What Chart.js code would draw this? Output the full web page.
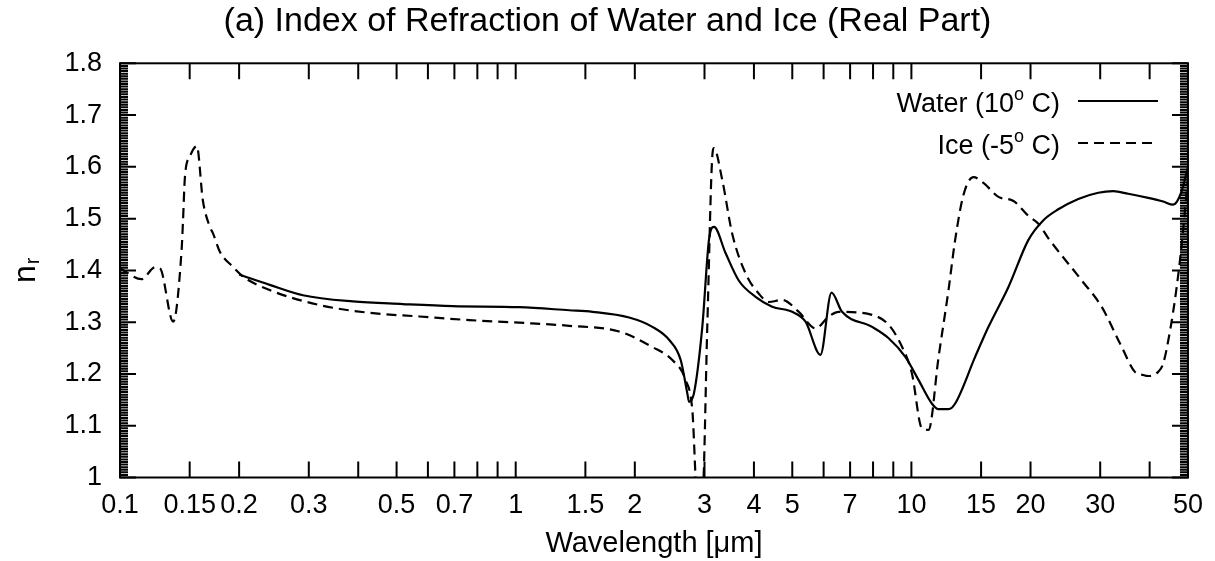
<!DOCTYPE html>
<html>
<head>
<meta charset="utf-8">
<script src="https://cdn.jsdelivr.net/npm/chart.js@4.4.0/dist/chart.umd.min.js"></script>
<style>
  html, body { margin: 0; padding: 0; background: #fff; }
</style>
</head>
<body>
<canvas id="nrChart" width="1215" height="561"></canvas>
<script>
// wavelength in micrometres, real refractive index
const waterWavelength = [0.2, 0.239, 0.29, 0.3877, 0.5184, 0.6931, 1.021, 1.365, 1.563, 1.935, 2.215, 2.441, 2.612, 2.714, 2.742, 2.822, 2.962, 3.079, 3.17, 3.393, 3.665, 4.038, 4.447, 4.996, 5.401, 5.891, 6.281, 6.68, 7.952, 8.76, 9.652, 10.43, 11.26, 11.71, 12.41, 12.9, 14.49, 15.66, 17.59, 19.76, 21.56, 23.51, 26.41, 29.67, 32.36, 35.31, 39.67, 43.28, 45.86, 48.05, 50];
const waterIndex = [1.392, 1.372, 1.352, 1.340, 1.335, 1.331, 1.329, 1.323, 1.320, 1.309, 1.291, 1.266, 1.227, 1.163, 1.146, 1.163, 1.291, 1.459, 1.484, 1.433, 1.380, 1.349, 1.330, 1.320, 1.301, 1.237, 1.357, 1.320, 1.291, 1.269, 1.233, 1.188, 1.143, 1.132, 1.132, 1.143, 1.233, 1.291, 1.368, 1.459, 1.497, 1.518, 1.538, 1.550, 1.553, 1.548, 1.540, 1.533, 1.527, 1.550, 1.600];

const iceWavelength = [0.1, 0.1134, 0.1226, 0.1262, 0.1363, 0.1431, 0.1442, 0.1459, 0.1502, 0.1564, 0.1619, 0.1687, 0.1717, 0.1788, 0.1928, 0.2047, 0.239, 0.3196, 0.4273, 0.5712, 0.7638, 1.021, 1.365, 1.825, 2.215, 2.488, 2.689, 2.795, 2.877, 2.962, 3.049, 3.139, 3.17, 3.326, 3.525, 3.811, 4.117, 4.363, 4.714, 5.193, 5.723, 6.183, 6.554, 7.952, 8.76, 9.462, 10.03, 10.63, 11.05, 11.71, 12.41, 12.9, 13.54, 14.35, 15.21, 16.6, 18.11, 19.76, 20.94, 22.19, 26.92, 30.24, 33.96, 36.71, 38.53, 39.67, 42.04, 43.28, 45.08, 46.67, 48.05, 50];
const iceIndex = [1.404, 1.383, 1.406, 1.404, 1.301, 1.439, 1.491, 1.580, 1.620, 1.640, 1.536, 1.484, 1.472, 1.436, 1.407, 1.388, 1.362, 1.333, 1.318, 1.311, 1.304, 1.299, 1.293, 1.282, 1.252, 1.227, 1.188, 1.130, 0.96, 0.96, 1.291, 1.620, 1.636, 1.575, 1.471, 1.394, 1.355, 1.339, 1.343, 1.320, 1.288, 1.311, 1.320, 1.314, 1.295, 1.253, 1.201, 1.095, 1.092, 1.232, 1.362, 1.459, 1.546, 1.580, 1.569, 1.542, 1.534, 1.505, 1.490, 1.462, 1.381, 1.330, 1.253, 1.204, 1.198, 1.196, 1.204, 1.220, 1.285, 1.360, 1.440, 1.580];

// tick positions
const xTickValues = [0.1, 0.15, 0.2, 0.3, 0.4, 0.5, 0.6, 0.7, 0.8, 0.9, 1, 1.5, 2, 3, 4, 5, 6, 7, 8, 9, 10, 15, 20, 30, 40, 50];
const xTickLabels = ['0.1', '0.15', '0.2', '0.3', '0.5', '0.7', '1', '1.5', '2', '3', '4', '5', '7', '10', '15', '20', '30', '50'];
const yTickValues = [1, 1.1, 1.2, 1.3, 1.4, 1.5, 1.6, 1.7, 1.8];

const FONT = "'Liberation Sans', Arial, Helvetica, sans-serif";
const TITLE = '(a) Index of Refraction of Water and Ice (Real Part)';

const toPoints = (xs, ys) => xs.map((v, i) => ({ x: v, y: ys[i] }));

// gnuplot-like frame: inward ticks mirrored on all four sides, text legend, titles
const frameTicks = {
  id: 'frameTicks',
  afterDatasetsDraw(chart) {
    const { ctx, chartArea: a, scales: { x, y } } = chart;
    ctx.save();
    ctx.strokeStyle = '#000';
    ctx.lineWidth = 2;
    ctx.lineCap = 'butt';
    ctx.strokeRect(a.left, a.top, a.right - a.left, a.bottom - a.top);

    ctx.beginPath();
    xTickValues.forEach(v => {
      const px = x.getPixelForValue(v);
      ctx.moveTo(px, a.bottom); ctx.lineTo(px, a.bottom - 16);
      ctx.moveTo(px, a.top); ctx.lineTo(px, a.top + 16);
    });
    for (let i = 0; i <= 160; i++) {
      const py = y.getPixelForValue(1 + i * 0.005);
      const len = i % 20 === 0 ? 16 : 8;
      ctx.moveTo(a.left, py); ctx.lineTo(a.left + len, py);
      ctx.moveTo(a.right, py); ctx.lineTo(a.right - len, py);
    }
    ctx.stroke();

    // title, centred on the whole canvas
    ctx.fillStyle = '#000';
    ctx.font = '34px ' + FONT;
    ctx.textAlign = 'center';
    ctx.textBaseline = 'middle';
    ctx.fillText(TITLE, chart.width / 2, 22);

    // legend
    const legendRows = [
      { pre: 'Water (10', post: ' C)', dash: [], y: 101 },
      { pre: 'Ice (-5', post: ' C)', dash: [10, 6], y: 143 }
    ];
    const textRight = 1060;
    legendRows.forEach(row => {
      ctx.font = '27px ' + FONT;
      const wPost = ctx.measureText(row.post).width;
      ctx.font = '18px ' + FONT;
      const wSup = ctx.measureText('o').width;
      ctx.font = '27px ' + FONT;
      const wPre = ctx.measureText(row.pre).width;
      const x0 = textRight - wPost - wSup - wPre;
      ctx.textBaseline = 'alphabetic';
      ctx.textAlign = 'left';
      ctx.fillText(row.pre, x0, row.y + 11);
      ctx.fillText(row.post, x0 + wPre + wSup, row.y + 11);
      ctx.font = '18px ' + FONT;
      ctx.fillText('o', x0 + wPre, row.y - 1);

      ctx.setLineDash(row.dash);
      ctx.lineWidth = 2.2;
      ctx.beginPath();
      ctx.moveTo(1078, row.y); ctx.lineTo(1158, row.y);
      ctx.stroke();
      ctx.setLineDash([]);
    });

    // y axis title n_r, rotated
    ctx.translate(35, 283);
    ctx.rotate(-Math.PI / 2);
    ctx.textAlign = 'left';
    ctx.textBaseline = 'alphabetic';
    ctx.font = '32px ' + FONT;
    ctx.fillText('n', 0, 0);
    const nW = ctx.measureText('n').width;
    ctx.font = '20px ' + FONT;
    ctx.fillText('r', nW + 1, 4);
    ctx.restore();
  }
};

const ctx = document.getElementById('nrChart').getContext('2d');

new Chart(ctx, {
  type: 'line',
  data: {
    datasets: [
      {
        label: 'Water (10° C)',
        data: toPoints(waterWavelength, waterIndex),
        borderColor: '#000',
        borderWidth: 2.2,
        pointRadius: 0,
        cubicInterpolationMode: 'monotone',
        fill: false
      },
      {
        label: 'Ice (-5° C)',
        data: toPoints(iceWavelength, iceIndex),
        borderColor: '#000',
        borderWidth: 2.2,
        borderDash: [10, 6],
        pointRadius: 0,
        cubicInterpolationMode: 'monotone',
        fill: false
      }
    ]
  },
  options: {
    responsive: false,
    animation: false,
    parsing: false,
    layout: { padding: { left: 0, right: 25, top: 63.3, bottom: 0 } },
    plugins: {
      legend: { display: false },
      tooltip: { enabled: false },
      title: { display: false }
    },
    scales: {
      x: {
        type: 'logarithmic',
        min: 0.1,
        max: 50,
        grid: { display: false, drawTicks: false },
        border: { display: false },
        afterBuildTicks: s => { s.ticks = xTickValues.map(v => ({ value: v })); },
        afterFit: s => { s.height = 83.5; },
        ticks: {
          autoSkip: false,
          maxRotation: 0,
          minRotation: 0,
          padding: 12,
          color: '#000',
          font: { family: FONT, size: 27 },
          callback: v => {
            const t = String(Number(v.toPrecision(3)));
            return xTickLabels.includes(t) ? t : '';
          }
        },
        title: {
          display: true,
          text: 'Wavelength [μm]',
          color: '#000',
          font: { family: FONT, size: 29 },
          padding: { top: 0, bottom: 0 }
        }
      },
      y: {
        min: 1,
        max: 1.8,
        grid: { display: false, drawTicks: false },
        border: { display: false },
        afterBuildTicks: s => { s.ticks = yTickValues.map(v => ({ value: v })); },
        afterFit: s => { s.width = 120; },
        ticks: {
          padding: 18,
          color: '#000',
          font: { family: FONT, size: 27 },
          callback: v => String(Number(v.toFixed(1)))
        }
      }
    }
  },
  plugins: [frameTicks]
});
</script>
</body>
</html>
